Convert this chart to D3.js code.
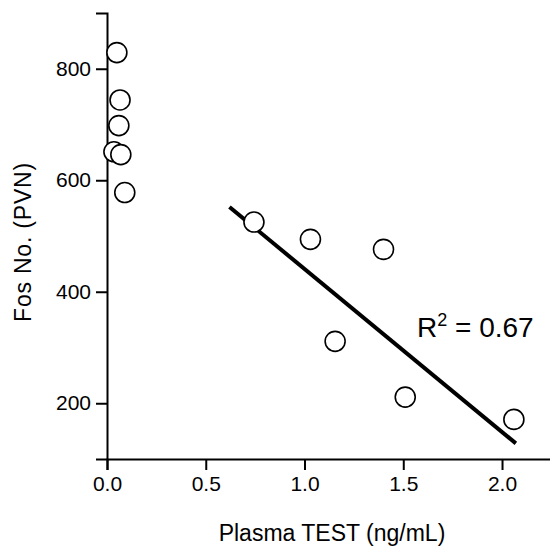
<!DOCTYPE html>
<html>
<head>
<meta charset="utf-8">
<script src="https://cdn.jsdelivr.net/npm/d3@7"></script>
<style>
  body { margin: 0; background: #fff; }
  text { font-family: "Liberation Sans", Arial, sans-serif; fill: #000; }
</style>
</head>
<body>
<script>
// plasma testosterone (ng/mL) vs Fos count in PVN
var plasmaTest = [0.05, 0.066, 0.06, 0.035, 0.07, 0.09, 0.744, 1.03, 1.40, 1.155, 1.51, 2.06];
var fosCount  = [829, 744, 698, 651, 646, 578, 525, 494, 476, 311, 211, 171];

// regression line end points
var fitX = [0.62, 2.07];
var fitY = [552, 128];
var rSquared = "0.67";

var xTicks = [0, 0.5, 1.0, 1.5, 2.0];
var yTicks = [200, 400, 600, 800];

var width = 550, height = 548;

var svg = d3.select("body").append("svg")
    .attr("width", width)
    .attr("height", height);

var x = d3.scaleLinear().domain([0, 2.25]).range([107, 551.4]);
var y = d3.scaleLinear().domain([100, 900]).range([459, 13]);

// axes
var xAxis = svg.append("g")
    .attr("transform", "translate(0," + y(100) + ")")
    .call(d3.axisBottom(x).tickValues(xTicks).tickFormat(d3.format(".1f")).tickSize(11).tickPadding(6));

var yAxis = svg.append("g")
    .attr("transform", "translate(" + x(0) + ",0)")
    .call(d3.axisLeft(y).tickValues(yTicks).tickFormat(d3.format("d")).tickSize(11).tickPadding(5));

[xAxis, yAxis].forEach(function(g) {
    g.select(".domain").attr("stroke", "#000").attr("stroke-width", 2);
    g.selectAll(".tick line").attr("stroke", "#000").attr("stroke-width", 2);
    g.selectAll(".tick text").style("font-size", "21px").attr("fill", "#000");
});

// fit line
var line = d3.line().x(function(d) { return x(d[0]); }).y(function(d) { return y(d[1]); });
svg.append("path")
    .datum(d3.zip(fitX, fitY))
    .attr("d", line)
    .attr("fill", "none")
    .attr("stroke", "#000")
    .attr("stroke-width", 4);

// points
svg.selectAll("circle.pt")
    .data(d3.zip(plasmaTest, fosCount))
    .enter().append("circle")
    .attr("class", "pt")
    .attr("cx", function(d) { return x(d[0]); })
    .attr("cy", function(d) { return y(d[1]); })
    .attr("r", 10)
    .attr("fill", "#fff")
    .attr("stroke", "#000")
    .attr("stroke-width", 1.6);

// R^2 label
var rl = svg.append("text")
    .attr("x", 417)
    .attr("y", 337)
    .style("font-size", "28px");
rl.append("tspan").text("R");
rl.append("tspan").attr("dy", -11).style("font-size", "18px").text("2");
rl.append("tspan").attr("dy", 11).text(" = " + rSquared);

// axis titles
svg.append("text")
    .attr("x", 332)
    .attr("y", 541)
    .attr("text-anchor", "middle")
    .style("font-size", "23px")
    .text("Plasma TEST (ng/mL)");

svg.append("text")
    .attr("transform", "translate(31,242) rotate(-90)")
    .attr("text-anchor", "middle")
    .style("font-size", "23px")
    .style("letter-spacing", "0.8px")
    .text("Fos No. (PVN)");
</script>
</body>
</html>
